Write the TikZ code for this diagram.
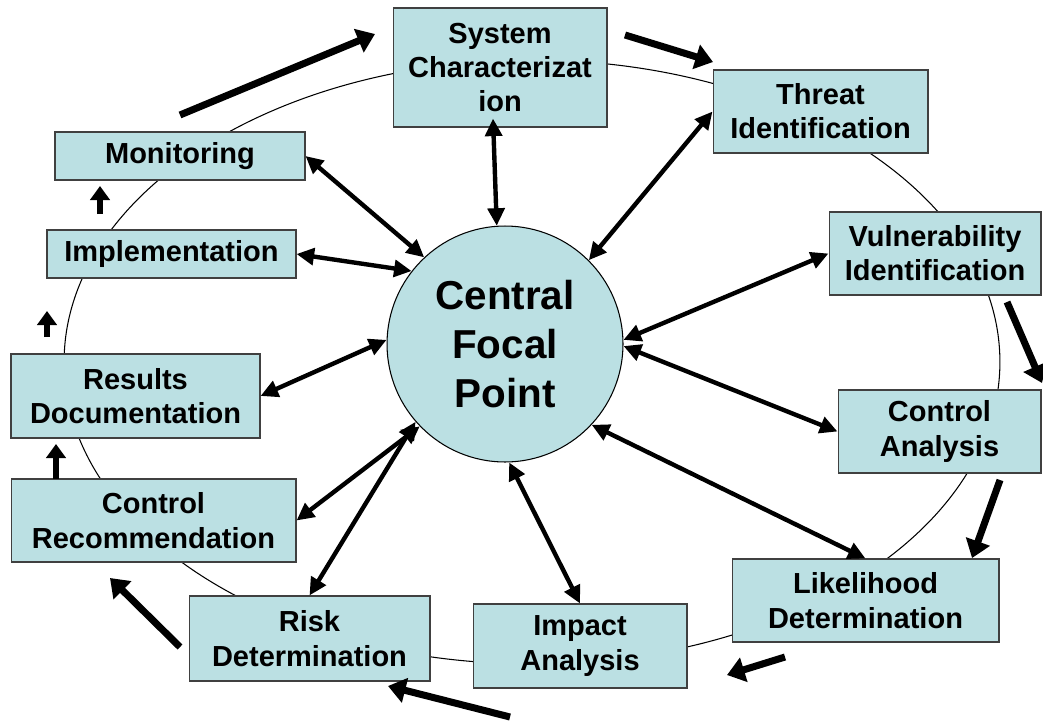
\documentclass[tikz,border=0pt]{standalone}
\usepackage{fontspec}
\setmainfont{Liberation Sans}
\usepackage{tikz}
\usetikzlibrary{arrows.meta, positioning, calc}
\definecolor{stagefill}{RGB}{187, 224, 227}

\begin{document}
\begin{tikzpicture}[
  x=0.02cm, y=-0.02cm,
  every node/.style={font=\bfseries\fontsize{16.5}{19.5}\selectfont},
  stage/.style={draw=black!75, line width=0.6pt, fill=stagefill, align=center, inner sep=2pt},
  hub/.style={circle, draw=black, line width=0.6pt, fill=stagefill, align=center, minimum size=4.72cm, inner sep=0pt, font=\bfseries\fontsize{23}{28}\selectfont},
  link/.style={{Triangle[length=10pt, width=9.5pt]}-{Triangle[length=10pt, width=9.5pt]}, line width=2.5pt},
  flow/.style={-{Triangle[length=10pt, width=14pt]}, line width=4pt},
  nudge/.style={-{Triangle[length=8pt, width=11pt]}, line width=3.3pt}
]
  \useasboundingbox (0,0) rectangle (1043,723);

  % the assessment cycle
  \draw[line width=0.6pt] (532,362) ellipse [x radius=9.36cm, y radius=6.04cm];

  \node[stage, minimum width=4.28cm, minimum height=2.38cm] (sys) at (500,67.5) {System\\Characterizat\\ion};
  \node[stage, minimum width=4.30cm, minimum height=1.66cm] (threat) at (820.5,111.5) {Threat\\Identification};
  \node[stage, minimum width=4.24cm, minimum height=1.66cm] (vuln) at (935,253.5) {Vulnerability\\Identification};
  \node[stage, minimum width=4.06cm, minimum height=1.66cm] (ctrl) at (939.5,431.5) {Control\\Analysis};
  \node[stage, minimum width=5.34cm, minimum height=1.66cm] (like) at (865.5,600.5) {Likelihood\\Determination};
  \node[stage, minimum width=4.28cm, minimum height=1.68cm] (impact) at (580,646) {Impact\\Analysis};
  \node[stage, minimum width=4.82cm, minimum height=1.70cm] (risk) at (309.5,638.5) {Risk\\Determination};
  \node[stage, minimum width=5.70cm, minimum height=1.66cm] (rec) at (153.5,520.5) {Control\\Recommendation};
  \node[stage, minimum width=4.98cm, minimum height=1.68cm] (docs) at (135.5,396) {Results\\Documentation};
  \node[stage, minimum width=4.98cm, minimum height=0.96cm] (impl) at (171.5,254) {Implementation};
  \node[stage, minimum width=5.00cm, minimum height=0.96cm] (monit) at (180,156) {Monitoring};

  \node[hub] (focal) at (505,344) {Central\\Focal\\Point};

  % spokes to the focal point
  \draw[link] (focal.94) -- ([xshift=-0.14cm, yshift=0.18cm]sys.south);
  \draw[link] (focal.45) -- (threat.west);
  \draw[link] (focal.2) -- (vuln.west);
  \draw[link] (focal.-1) -- (ctrl.west);
  \draw[link] (focal.-43) -- (like.north);
  \draw[link] (focal.-88) -- (impact.north);
  \draw[link] (focal.-139) -- (risk.north);
  \draw[link] (focal.-136) -- (rec.east);
  \draw[link] (focal.178) -- (docs.east);
  \draw[link] (focal.142) -- (impl.east);
  \draw[link] (focal.133) -- (monit.east);

  % direction of the cycle
  \foreach \n/\p/\q in {1/{180,115}/{375,34}, 2/{625,35}/{713,62}, 3/{1007,302}/{1042,383},
                        4/{1000,480}/{972,558}, 5/{785,657}/{727,675}, 6/{510,717}/{388,686},
                        7/{180,647}/{110,578}} {
    \coordinate (s\n) at (\p);
    \coordinate (e\n) at (\q);
    \draw[flow] (s\n) -- (e\n);
  }
  \foreach \n/\p/\q in {1/{56,479}/{56,444}, 2/{47,337}/{47,311}, 3/{100,214}/{100,186}} {
    \coordinate (u\n) at (\p);
    \coordinate (v\n) at (\q);
    \draw[nudge] (u\n) -- (v\n);
  }

\end{tikzpicture}
\end{document}
